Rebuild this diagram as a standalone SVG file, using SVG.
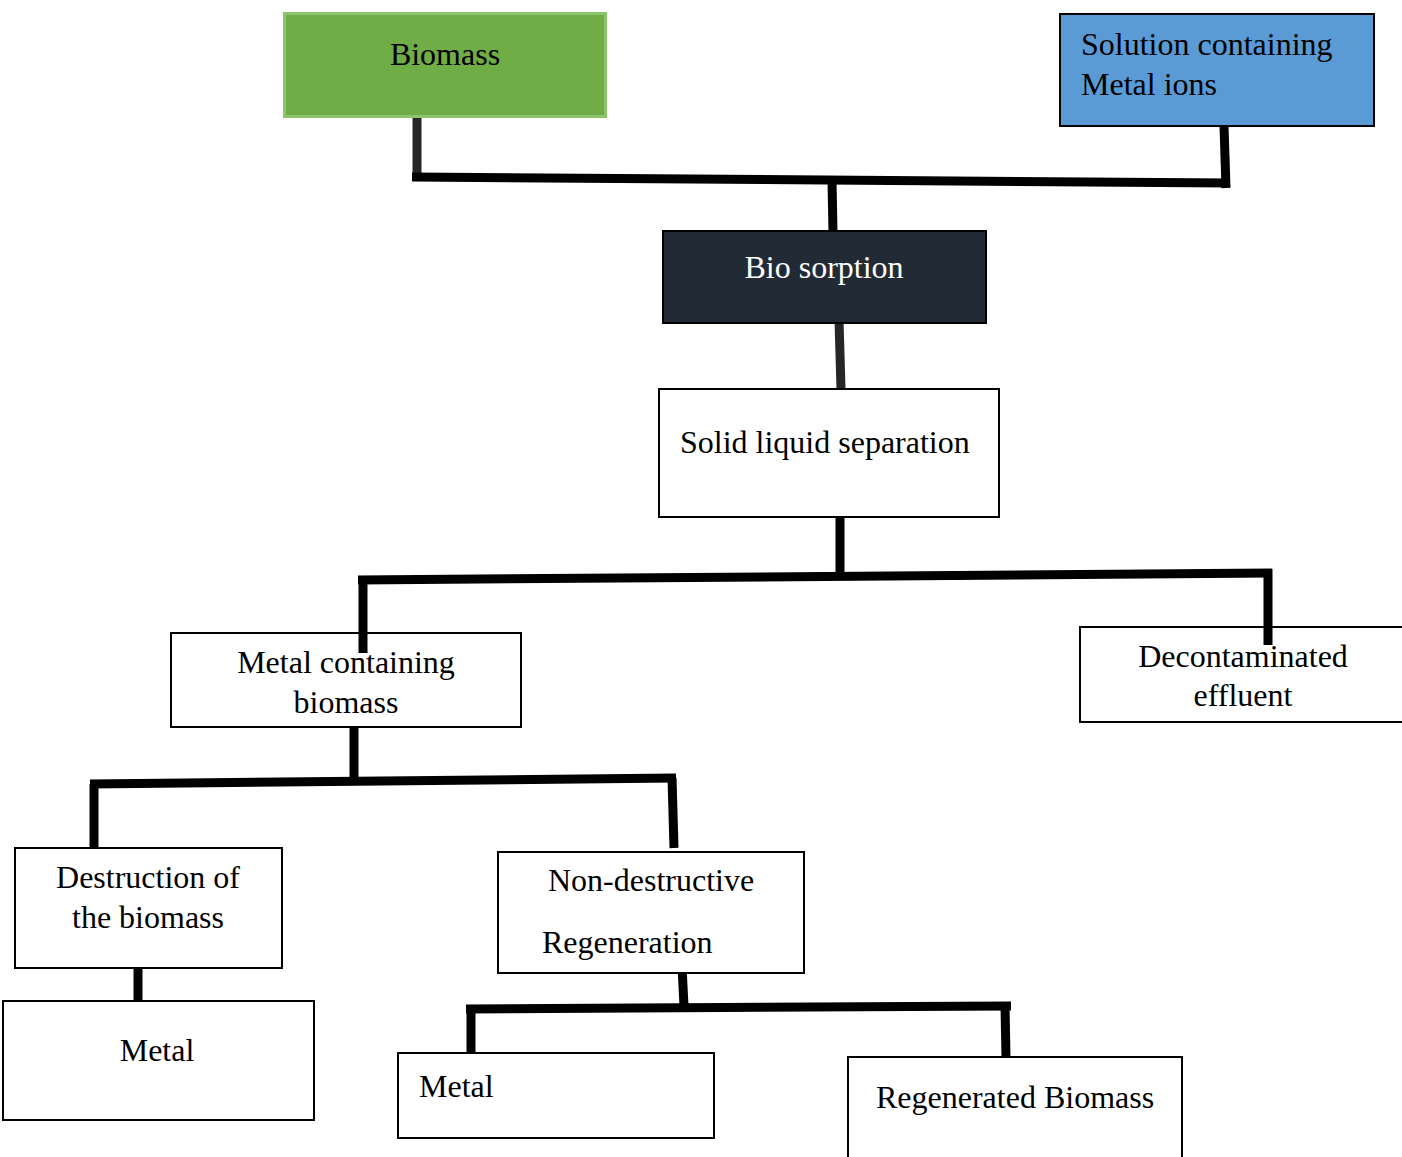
<svg xmlns="http://www.w3.org/2000/svg" width="1402" height="1157" viewBox="0 0 1402 1157">
<style>
  .box{fill:#ffffff;stroke:#000000;stroke-width:2}
  .t{font-family:"Liberation Serif","Times New Roman",serif;font-size:32px;fill:#000}
  .c{text-anchor:middle}
  .w{fill:#ffffff}
  .ln{stroke:#000;stroke-width:9;fill:none;stroke-linecap:butt}
  .gy{stroke:#262626}
</style>
<rect width="1402" height="1157" fill="#ffffff"/>
<g id="connectors">
  <line class="ln gy" x1="417" y1="117" x2="417" y2="180" stroke-width="10"/>
  <line class="ln" x1="412" y1="177" x2="1230" y2="183"/>
  <line class="ln" x1="1224" y1="126" x2="1226" y2="188"/>
  <line class="ln" x1="832" y1="180" x2="833" y2="232"/>
  <line class="ln gy" x1="839" y1="320" x2="841" y2="389"/>
  <line class="ln" x1="840" y1="517" x2="840" y2="577"/>
  <line class="ln" x1="358" y1="580" x2="1272" y2="573"/>
  <line class="ln" x1="363" y1="580" x2="363" y2="653" stroke-width="6" stroke="#1a1a1a"/>
  <line class="ln" x1="1268" y1="569" x2="1268" y2="645"/>
  <line class="ln" x1="354" y1="727" x2="354" y2="782"/>
  <line class="ln" x1="90" y1="784" x2="676" y2="778"/>
  <line class="ln" x1="94" y1="784" x2="94" y2="848"/>
  <line class="ln" x1="672" y1="778" x2="674" y2="848"/>
  <line class="ln" x1="138" y1="964" x2="138" y2="1001" stroke-width="10"/>
  <line class="ln" x1="682" y1="966" x2="684" y2="1006"/>
  <line class="ln" x1="466" y1="1009" x2="1011" y2="1006"/>
  <line class="ln" x1="471" y1="1009" x2="471" y2="1053"/>
  <line class="ln" x1="1005" y1="1006" x2="1006" y2="1057"/>
</g>
<g id="biomass">
  <rect x="284.5" y="13.5" width="321" height="103" fill="#70ad47" stroke="#8cc46c" stroke-width="3"/>
  <text class="t c" x="445" y="65">Biomass</text>
</g>
<g id="solution">
  <rect x="1060" y="14" width="314" height="112" fill="#5b9bd5" stroke="#000" stroke-width="2"/>
  <text class="t" x="1081" y="55">Solution containing</text>
  <text class="t" x="1081" y="95">Metal ions</text>
</g>
<g id="biosorption">
  <rect x="663" y="231" width="323" height="92" fill="#222a35" stroke="#000" stroke-width="2"/>
  <text class="t c w" x="824" y="278">Bio sorption</text>
</g>
<g id="solid-liquid">
  <rect class="box" x="659" y="389" width="340" height="128"/>
  <text class="t" x="680" y="453">Solid liquid separation</text>
</g>
<g id="metal-containing">
  <rect class="box" x="171" y="633" width="350" height="94" fill-opacity="0"/>
  <text class="t c" x="346" y="673">Metal containing</text>
  <text class="t c" x="346" y="713">biomass</text>
</g>
<g id="decontaminated">
  <rect class="box" x="1080" y="627" width="330" height="95" fill-opacity="0"/>
  <text class="t c" x="1243" y="667">Decontaminated</text>
  <text class="t c" x="1243" y="706">effluent</text>
</g>
<g id="destruction">
  <rect class="box" x="15" y="848" width="267" height="120"/>
  <text class="t c" x="148" y="888">Destruction of</text>
  <text class="t c" x="148" y="928">the biomass</text>
</g>
<g id="non-destructive">
  <rect class="box" x="498" y="852" width="306" height="121"/>
  <text class="t" x="548" y="891">Non-destructive</text>
  <text class="t" x="542" y="953">Regeneration</text>
</g>
<g id="metal-left">
  <rect class="box" x="3" y="1001" width="311" height="119"/>
  <text class="t c" x="157" y="1061">Metal</text>
</g>
<g id="metal-middle">
  <rect class="box" x="398" y="1053" width="316" height="85"/>
  <text class="t" x="419" y="1097">Metal</text>
</g>
<g id="regenerated">
  <rect class="box" x="848" y="1057" width="334" height="120"/>
  <text class="t" x="876" y="1108">Regenerated Biomass</text>
</g>
</svg>
